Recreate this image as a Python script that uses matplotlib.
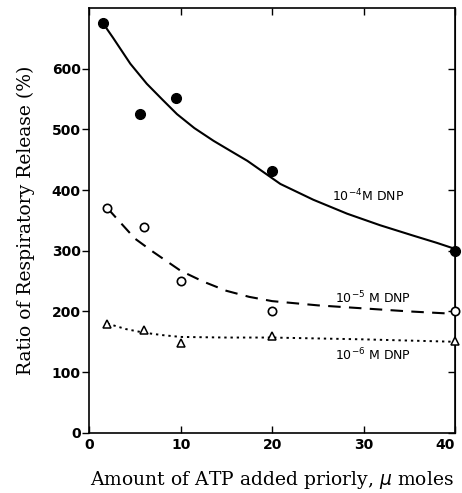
import matplotlib
matplotlib.use("Agg")
import matplotlib.pyplot as plt

# measured points
x4 = [1.5, 5.6, 9.5, 20, 40]
y4 = [675, 525, 552, 432, 300]
x5 = [2, 6, 10, 20, 40]
y5 = [370, 339, 250, 200, 200]
x6 = [2, 6, 10, 20, 40]
y6 = [180, 170, 148, 160, 152]

# fitted curves
cx4 = [1.5, 2.6, 4.5, 6.3, 8, 9.6, 11.5, 13.6, 15.5, 17.3, 20.9, 24.5, 28.2, 31.8, 35.4, 38, 40]
cy4 = [675, 651, 608, 575, 549, 525, 502, 481, 464, 448, 410, 384, 361, 342, 325, 313, 303]
cx5 = [2, 3.5, 5, 7, 10, 12.5, 15, 17.5, 20, 25, 30, 35, 40]
cy5 = [370, 345, 320, 298, 267, 249, 234, 224, 217, 210, 205, 200, 196]
cx6 = [2, 4, 6, 8, 10, 15, 20, 30, 40]
cy6 = [180, 171, 165, 161, 158, 157, 157, 154, 150]

xticks = [0, 10, 20, 30, 40]
yticks = [0, 100, 200, 300, 400, 500, 600]

fig = plt.figure(figsize=(4.62, 4.93), dpi=100)
ax = fig.add_axes([0.193, 0.122, 0.792, 0.862])

ax.plot(cx4, cy4, color="black", lw=1.5, ls="-")
ax.plot(cx5, cy5, color="black", lw=1.5, ls=(0, (6, 4)))
ax.plot(cx6, cy6, color="black", lw=1.4, ls=(0, (1.2, 2)))

ax.plot(x4, y4, "o", ms=7, color="black", clip_on=False, zorder=5)
ax.plot(x5, y5, "o", ms=6, mfc="white", mec="black", mew=1.2, clip_on=False, zorder=5)
ax.plot(x6, y6, "^", ms=6, mfc="white", mec="black", mew=1.1, clip_on=False, zorder=5)

ax.set_xlim(0, 40)
ax.set_ylim(0, 700)
ax.set_xticks(xticks)
ax.set_yticks(yticks)

tickfont = {"family": "DejaVu Sans", "size": 10, "weight": "bold"}
xl = ax.set_xticklabels([str(v) for v in xticks], fontdict=tickfont)
xl[-1].set_horizontalalignment("right")
xl[-1].set_x(40.4)
ax.set_yticklabels([str(v) for v in yticks], fontdict=tickfont)
ax.tick_params(axis="x", direction="in", top=True, length=5, width=1, pad=4)
ax.tick_params(axis="y", direction="out", length=5, width=1, pad=1)
for s in ax.spines.values():
    s.set_linewidth(1.2)

sec = ax.secondary_yaxis("right")
sec.set_yticks(yticks)
sec.tick_params(direction="in", length=5, width=1, labelright=False)

labfont = {"family": "DejaVu Serif", "size": 13.5}
ax.set_xlabel("Amount of ATP added priorly, $\\mu$ moles", fontdict=labfont, labelpad=12)
ax.set_ylabel("Ratio of Respiratory Release (%)", fontdict=labfont, labelpad=12)

nfont = {"family": "DejaVu Sans", "size": 9}
ax.text(30.5, 390, "10$^{-4}$M DNP", fontdict=nfont, ha="center", va="center")
ax.text(31.0, 222, "10$^{-5}$ M DNP", fontdict=nfont, ha="center", va="center")
ax.text(31.0, 128, "10$^{-6}$ M DNP", fontdict=nfont, ha="center", va="center")

fig.savefig("out.png", dpi=100)
